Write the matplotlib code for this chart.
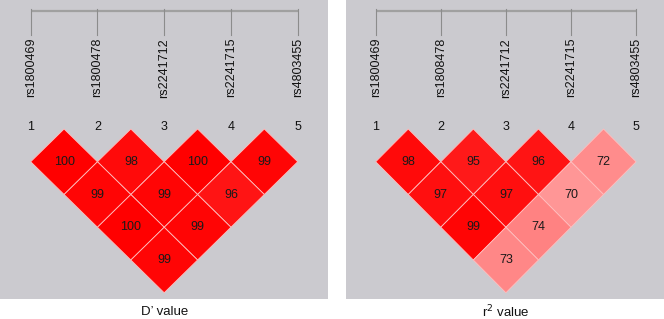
import matplotlib
matplotlib.use("Agg")
import matplotlib.pyplot as plt
from matplotlib.patches import Polygon

plt.rcParams["font.family"] = ["Liberation Sans", "DejaVu Sans"]

# SNP names for each panel
snps_left = ["rs1800469", "rs1800478", "rs2241712", "rs2241715", "rs4803455"]
snps_right = ["rs1800469", "rs1808478", "rs2241712", "rs2241715", "rs4803455"]

# pairwise values, order: (1,2),(2,3),(3,4),(4,5),(1,3),(2,4),(3,5),(1,4),(2,5),(1,5)
pairs = [(1, 2), (2, 3), (3, 4), (4, 5),
         (1, 3), (2, 4), (3, 5),
         (1, 4), (2, 5),
         (1, 5)]
d_prime = [100, 98, 100, 99, 99, 99, 96, 100, 99, 99]
r_square = [98, 95, 96, 72, 97, 97, 70, 99, 74, 73]

titles = ["D\u2019 value", "r$^2$ value"]

BG = "#cbcacf"


def cell_color(v):
    # lighter red for lower values
    g = min(1.0, (100 - v) * 5 / 255.0)
    return (1.0, g, g)


def draw_panel(ax, snps, values, title, xlim):

    ax.set_facecolor(BG)
    ax.set_xlim(*xlim)
    ax.set_ylim(2.595, -1.969)
    ax.set_xticks([])
    ax.set_yticks([])
    for s in ax.spines.values():
        s.set_visible(False)

    n = len(snps)
    pos = list(range(1, n + 1))

    # top bracket
    ax.plot([pos[0], pos[-1]], [-1.80, -1.80], color="#a0a0a0", lw=1.6,
            solid_capstyle="butt")
    for p in pos:
        ax.plot([p, p], [-1.83, -1.435], color="#8c8c8c", lw=0.8)

    # names and indices
    for p, name in zip(pos, snps):
        ax.text(p, -1.39, name, rotation=90, ha="center", va="top",
                fontsize=9, color="#111111")
        ax.text(p, -0.03, str(p), ha="center", va="center",
                fontsize=9, color="#111111")

    # LD cells
    for (i, j), v in zip(pairs, values):
        cx = (i + j) / 2.0
        cy = (j - i) / 2.0
        diamond = Polygon(
            [(cx, cy - 0.5), (cx + 0.5, cy), (cx, cy + 0.5), (cx - 0.5, cy)],
            closed=True,
            facecolor=cell_color(v),
            edgecolor=(1.0, 0.75, 0.75),
            linewidth=0.6
        )
        ax.add_patch(diamond)
        ax.text(cx, cy, str(v), ha="center", va="center",
                fontsize=9, color="#1a1a1a")

    ax.text(3, 2.79, title, ha="center", va="center", fontsize=9.5,
            color="#111111", clip_on=False)


fig = plt.figure(figsize=(6.64, 3.19), dpi=100)

ax1 = fig.add_axes([0, 20 / 319, 328 / 664, 299 / 319])
ax2 = fig.add_axes([345.5 / 664, 20 / 319, 318.5 / 664, 299 / 319])

draw_panel(ax1, snps_left, d_prime, titles[0], (0.540, 5.454))
draw_panel(ax2, snps_right, r_square, titles[1], (0.536, 5.429))

fig.savefig("out.png", dpi=100, facecolor="white")
